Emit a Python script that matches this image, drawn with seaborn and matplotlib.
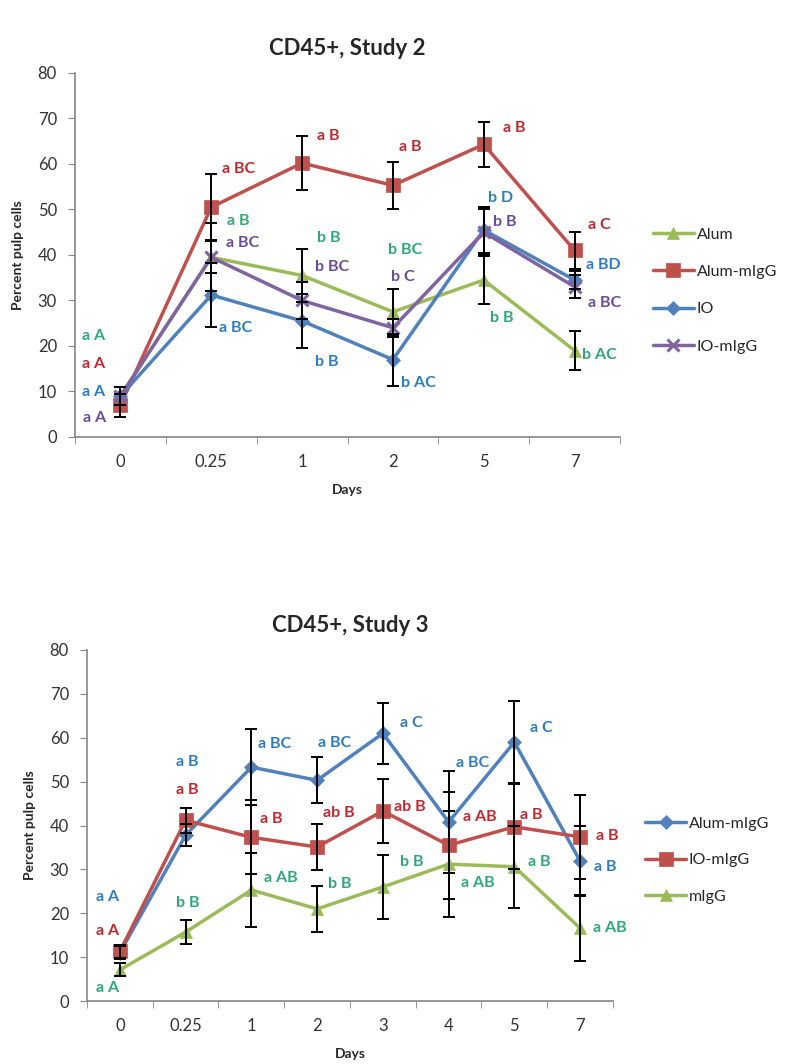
import pandas as pd
import matplotlib.pyplot as plt
import seaborn as sns

# ---- Study 2 data ----
s2_days = ["0", "0.25", "1", "2", "5", "7"]
s2_groups = ["Alum", "Alum-mIgG", "IO", "IO-mIgG"]
s2_alum = [9, 39.5, 35.5, 27.5, 34.5, 19]
s2_alum_migg = [7, 50.5, 60.2, 55.3, 64.3, 41]
s2_io = [9, 31.2, 25.5, 17, 45.5, 34.5]
s2_io_migg = [9, 39.5, 30, 24, 45, 33]
s2_alum_err = [2, 7.5, 5.8, 5, 5.2, 4.2]
s2_alum_migg_err = [2.5, 7.3, 6, 5.2, 5, 4]
s2_io_err = [2, 7, 6, 5.7, 5, 2]
s2_io_migg_err = [2, 3.5, 4, 2, 5, 2.5]
s2_alum_lab = ["a A", "a B", "b B", "b BC", "b B", "b AC"]
s2_alum_migg_lab = ["a A", "a BC", "a B", "a B", "a B", "a C"]
s2_io_lab = ["a A", "a BC", "b B", "b AC", "b D", "a BD"]
s2_io_migg_lab = ["a A", "a BC", "b BC", "b C", "b B", "a BC"]

# ---- Study 3 data ----
s3_days = ["0", "0.25", "1", "2", "3", "4", "5", "7"]
s3_groups = ["Alum-mIgG", "IO-mIgG", "mIgG"]
s3_alum_migg = [11, 37.8, 53.3, 50.3, 61, 40.8, 59, 31.9]
s3_io_migg = [11.3, 41.2, 37.3, 35.1, 43.3, 35.5, 39.7, 37.4]
s3_migg = [7.1, 15.7, 25.3, 21, 26, 31.2, 30.6, 16.6]
s3_alum_migg_err = [1.5, 2.5, 8.7, 5.2, 7, 11.7, 9.4, 8]
s3_io_migg_err = [1.5, 2.8, 8.4, 5.3, 7.2, 12.2, 9.7, 9.5]
s3_migg_err = [1.5, 2.7, 8.5, 5.2, 7.3, 12, 9.4, 7.5]
s3_alum_migg_lab = ["a A", "a B", "a BC", "a BC", "a C", "a BC", "a C", "a B"]
s3_io_migg_lab = ["a A", "a B", "a B", "ab B", "ab B", "a AB", "a B", "a B"]
s3_migg_lab = ["a A", "b B", "a AB", "b B", "b B", "a AB", "a B", "a AB"]

# ---- label placement (x index, y value) ----
s2_alum_pos = [(-0.30, 22.2), (1.30, 47.5), (2.29, 43.7), (3.13, 41), (4.20, 26.2), (5.27, 18)]
s2_alum_migg_pos = [(-0.30, 16), (1.30, 58.9), (2.29, 66.2), (3.19, 63.7), (4.34, 68), (5.27, 46.6)]
s2_io_pos = [(-0.30, 9.9), (1.27, 24), (2.27, 16.5), (3.28, 11.9), (4.18, 52.5), (5.32, 37.8)]
s2_io_migg_pos = [(-0.28, 4.2), (1.35, 42.6), (2.33, 37.4), (3.11, 35.2), (4.23, 47.3), (5.33, 29.5)]
s3_alum_migg_pos = [(-0.18, 23.7), (1.02, 54.4), (2.35, 58.5), (3.26, 58.8), (4.44, 63.3), (5.36, 54.2), (6.41, 62.2), (7.38, 30.5)]
s3_io_migg_pos = [(-0.18, 16), (1.02, 48.1), (2.31, 41.5), (3.33, 42.8), (4.41, 44.2), (5.47, 41.9), (6.26, 42.4), (7.41, 37.6)]
s3_migg_pos = [(-0.18, 3), (1.03, 22.3), (2.45, 28), (3.35, 26.7), (4.44, 31.7), (5.44, 26.9), (6.38, 31.7), (7.45, 16.6)]

# ---- styles (Excel series order) ----
GREEN, RED, BLUE, PURPLE = "#9BBB59", "#C0504D", "#4F81BD", "#8064A2"
T_GREEN, T_RED, T_BLUE, T_PURPLE = "#2EA878", "#C0282D", "#2F7DC0", "#6A4C9C"
s2_styles = [(GREEN, T_GREEN, "^"), (RED, T_RED, "s"), (BLUE, T_BLUE, "D"), (PURPLE, T_PURPLE, "x")]
s3_styles = [(BLUE, T_BLUE, "D"), (RED, T_RED, "s"), (GREEN, T_GREEN, "^")]
msizes = {"^": 9, "s": 10, "D": 7, "x": 9}

sns.set_style("white")
plt.rcParams["font.family"] = ["Lato", "DejaVu Sans"]


def draw_panel(ax, days, groups, values, errs, labels, label_pos, styles, title):
    for g, vals, (lc, tc, m) in zip(groups, values, styles):
        df = pd.DataFrame({"pos": range(len(vals)), "value": vals})
        sns.lineplot(data=df, x="pos", y="value", color=lc,
                     marker=m, markersize=msizes[m], markeredgecolor=lc,
                     markeredgewidth=2.2 if m == "x" else 0.5,
                     linewidth=2.5, label=g, ax=ax, zorder=3)
    for vals, e in zip(values, errs):
        ax.errorbar(range(len(vals)), vals, yerr=e, fmt="none", ecolor="black",
                    elinewidth=1.4, capsize=4.5, capthick=1.4, zorder=4)
    for labs, pos, (lc, tc, m) in zip(labels, label_pos, styles):
        for t, (px, py) in zip(labs, pos):
            ax.text(px, py, t, color=tc, fontsize=11.5,
                    fontweight="bold", ha="center", va="center", zorder=5)

    handles, labs = ax.get_legend_handles_labels()
    if ax.get_legend() is not None:
        ax.get_legend().remove()

    n = len(days)
    ax.set_xlim(-0.5, n - 0.5)
    ax.set_ylim(0, 80)
    ax.set_yticks(range(0, 81, 10))
    ax.set_xticks(range(n))
    ax.set_xticklabels(days)
    ax.set_xticks([i - 0.5 for i in range(n + 1)], minor=True)
    ax.tick_params(axis="x", which="major", length=0, labelsize=12,
                   colors="#333333", pad=12)
    ax.tick_params(axis="x", which="minor", length=5, color="#868686",
                   direction="out", bottom=True)
    ax.tick_params(axis="y", length=5, color="#868686", direction="out",
                   left=True, labelsize=12, labelcolor="#333333", pad=8)
    for s in ["top", "right"]:
        ax.spines[s].set_visible(False)
    for s in ["left", "bottom"]:
        ax.spines[s].set_color("#868686")
        ax.spines[s].set_linewidth(1.2)
    ax.set_xlabel("Days", fontsize=10, fontweight="bold", labelpad=10)
    ax.set_ylabel("Percent pulp cells", fontsize=10, fontweight="bold", labelpad=10)
    ax.set_title(title, fontsize=16, fontweight="bold", pad=13)
    return handles, labs


fig = plt.figure(figsize=(7.88, 10.64), dpi=100)

ax1 = fig.add_axes([0.0952, 0.5893, 0.6916, 0.3421])
h1, l1 = draw_panel(ax1, s2_days, s2_groups,
                    [s2_alum, s2_alum_migg, s2_io, s2_io_migg],
                    [s2_alum_err, s2_alum_migg_err, s2_io_err, s2_io_migg_err],
                    [s2_alum_lab, s2_alum_migg_lab, s2_io_lab, s2_io_migg_lab],
                    [s2_alum_pos, s2_alum_migg_pos, s2_io_pos, s2_io_migg_pos],
                    s2_styles, "CD45+, Study 2")
fig.legend(h1, l1, loc="center left", bbox_to_anchor=(0.81, 0.727),
           frameon=False, fontsize=11.5, handlelength=2.6, handletextpad=0.15,
           labelspacing=1.45)

ax2 = fig.add_axes([0.1104, 0.0592, 0.6675, 0.3299])
h2, l2 = draw_panel(ax2, s3_days, s3_groups,
                    [s3_alum_migg, s3_io_migg, s3_migg],
                    [s3_alum_migg_err, s3_io_migg_err, s3_migg_err],
                    [s3_alum_migg_lab, s3_io_migg_lab, s3_migg_lab],
                    [s3_alum_migg_pos, s3_io_migg_pos, s3_migg_pos],
                    s3_styles, "CD45+, Study 3")
fig.legend(h2, l2, loc="center left", bbox_to_anchor=(0.80, 0.1917),
           frameon=False, fontsize=11.5, handlelength=2.6, handletextpad=0.15,
           labelspacing=1.4)

fig.savefig("out.png", dpi=100)
